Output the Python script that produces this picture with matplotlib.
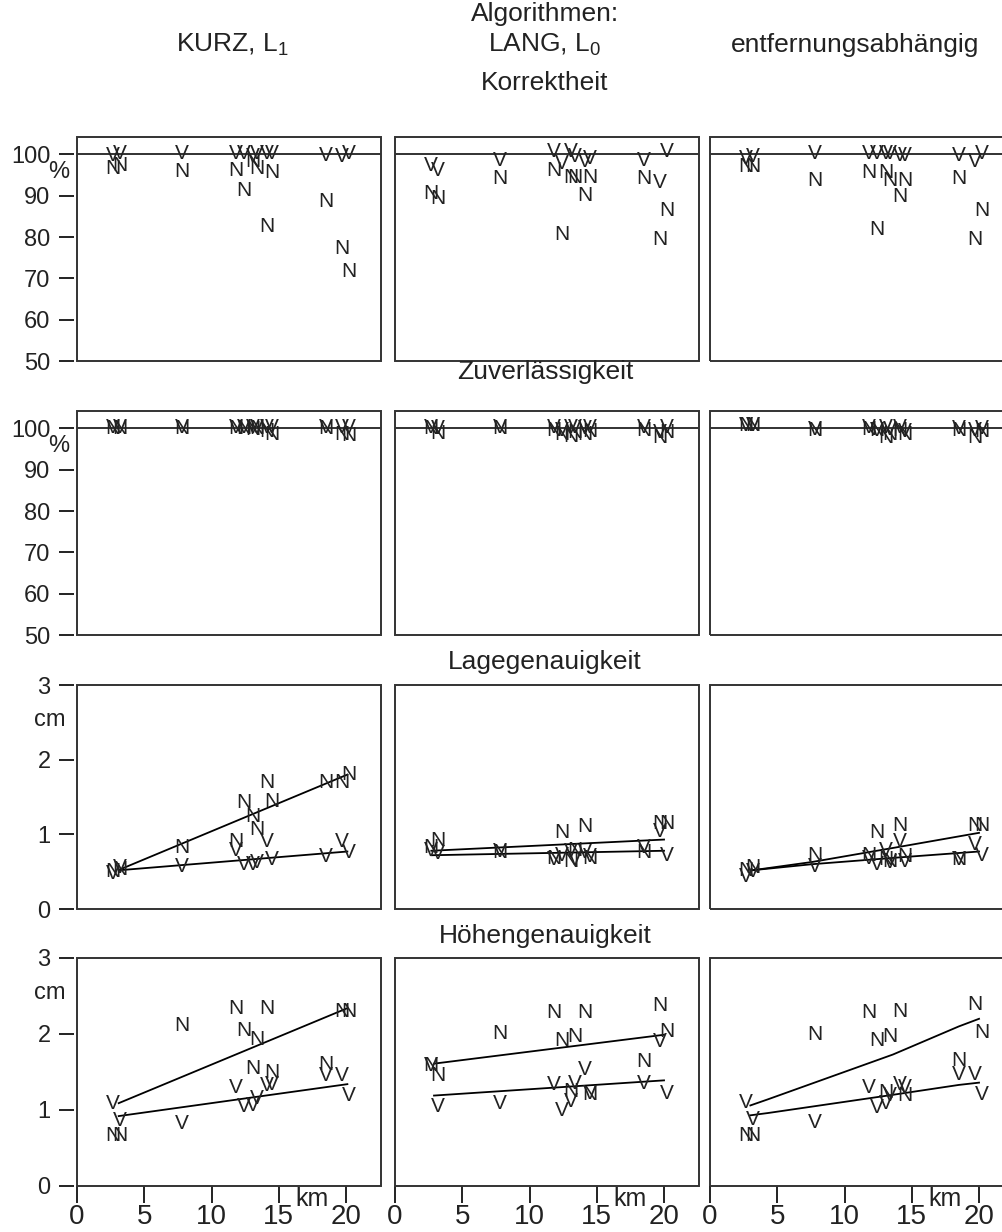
import numpy as np
import matplotlib.pyplot as plt
from matplotlib.patches import Rectangle
from matplotlib.transforms import blended_transform_factory

plt.rcParams['font.family'] = ['Liberation Sans Narrow', 'Liberation Sans', 'DejaVu Sans']
plt.rcParams['mathtext.default'] = 'regular'

# baselines (km), shared by every panel
dist = [2.7, 3.2, 7.8, 11.8, 12.4, 13.1, 13.4, 14.1, 14.5, 18.5, 19.7, 20.2]

algorithms = ['KURZ, L$_1$', 'LANG, L$_0$', 'entfernungsabhängig']
criteria = ['Korrektheit', 'Zuverlässigkeit', 'Lagegenauigkeit', 'Höhengenauigkeit']
units = ['%', '%', 'cm', 'cm']
pct_ticks = [50, 60, 70, 80, 90, 100]
cm_ticks = [0, 1, 2, 3]
km_ticks = [0, 5, 10, 15, 20]

# Korrektheit [%], one row per algorithm
korr_N = [[96.5, 97.3, 95.9, 96.1, 91.2, 98.2, 96.5, 82.5, 95.7, 88.5, 77.3, 71.6],
          [90.5, 89.3, 94.1, 96.1, 80.5, 94.5, 94.5, 90.1, 94.5, 94.1, 79.3, 86.5],
          [97.0, 97.0, 93.7, 95.7, 81.7, 95.7, 93.7, 89.7, 93.7, 94.1, 79.3, 86.5]]
korr_V = [[99.8, 100.2, 100.2, 100.2, 100.2, 99.4, 100.2, 100.2, 100.2, 99.8, 99.4, 100.2],
          [97.3, 96.1, 98.6, 100.6, 97.8, 100.6, 99.5, 98.2, 99.0, 98.6, 93.3, 100.6],
          [99.0, 99.5, 100.2, 100.2, 100.2, 100.2, 100.2, 99.8, 99.8, 99.8, 98.2, 100.2]]

# Zuverlaessigkeit [%]
zuv_N = [[100.0, 100.0, 100.0, 100.0, 100.0, 99.8, 100.0, 99.2, 98.6, 100.0, 98.6, 98.3],
         [100.0, 98.8, 100.0, 99.5, 98.6, 98.0, 99.0, 98.4, 99.2, 99.4, 97.8, 99.0],
         [100.6, 100.6, 99.6, 99.8, 99.4, 97.8, 98.6, 99.4, 98.6, 99.6, 97.8, 99.2]]
zuv_V = [[100.3, 100.2, 100.2, 100.3, 100.1, 100.3, 100.2, 100.3, 100.1, 100.3, 100.2, 100.3],
         [100.3, 100.0, 100.2, 100.3, 99.6, 100.3, 100.2, 100.0, 100.3, 100.3, 99.0, 100.2],
         [100.6, 100.6, 99.8, 100.2, 99.6, 100.2, 99.8, 100.2, 99.2, 100.0, 99.4, 100.0]]

# Lagegenauigkeit [cm]
lage_N = [[0.50, 0.53, 0.82, 0.90, 1.42, 1.24, 1.06, 1.69, 1.44, 1.69, 1.69, 1.80],
          [0.83, 0.92, 0.75, 0.68, 1.03, 0.63, 0.79, 1.11, 0.68, 0.75, 1.15, 1.15],
          [0.52, 0.55, 0.72, 0.72, 1.03, 0.66, 0.63, 1.12, 0.70, 0.66, 1.12, 1.12]]
lage_V = [[0.48, 0.55, 0.57, 0.79, 0.59, 0.59, 0.62, 0.90, 0.66, 0.70, 0.90, 0.75],
          [0.78, 0.74, 0.77, 0.66, 0.72, 0.77, 0.66, 0.75, 0.70, 0.82, 1.04, 0.71],
          [0.43, 0.50, 0.57, 0.68, 0.60, 0.79, 0.62, 0.90, 0.63, 0.66, 0.86, 0.72]]
lage_fit_x = [[3.2, 20.1], [2.7, 20.0], [3.2, 7.6, 14.0, 20.0]]
lage_fit_N = [[0.53, 1.80], [0.78, 0.93], [0.52, 0.63, 0.83, 1.02]]
lage_fit_V = [[0.52, 0.77], [0.72, 0.78], [0.52, 0.60, 0.69, 0.77]]

# Hoehengenauigkeit [cm]
hoehe_N = [[0.66, 0.66, 2.11, 2.33, 2.05, 1.55, 1.93, 2.33, 1.50, 1.60, 2.30, 2.30],
           [1.59, 1.46, 2.01, 2.28, 1.92, 1.24, 1.97, 2.28, 1.20, 1.64, 2.38, 2.03],
           [0.66, 0.66, 2.00, 2.28, 1.91, 1.23, 1.97, 2.29, 1.19, 1.65, 2.39, 2.02]]
hoehe_V = [[1.08, 0.86, 0.82, 1.30, 1.04, 1.06, 1.15, 1.32, 1.34, 1.45, 1.45, 1.19],
           [1.59, 1.05, 1.09, 1.33, 1.00, 1.11, 1.35, 1.53, 1.22, 1.35, 1.90, 1.22],
           [1.10, 0.88, 0.84, 1.30, 1.03, 1.08, 1.19, 1.34, 1.30, 1.47, 1.47, 1.21]]
hoehe_fit_x = [[3.1, 20.1], [2.9, 20.0], [3.0, 4.3, 13.6, 18.5, 20.0]]
hoehe_fit_N = [[1.09, 2.34], [1.61, 1.99], [1.06, 1.14, 1.73, 2.10, 2.20]]
hoehe_fit_V = [[0.92, 1.34], [1.19, 1.39], [0.93, 0.96, 1.20, 1.33, 1.36]]

W, H = 1003, 1232
fig = plt.figure(figsize=(W / 100, H / 100), dpi=100)

def px_box(left, top, w, h):
	return [left / W, 1 - (top + h) / H, w / W, h / H]

col_left = [77, 395, 710]
row_top = [137, 411, 685, 958]
row_h = [224, 224, 224, 228]
panel_w = 304

rows_N = [korr_N, zuv_N, lage_N, hoehe_N]
rows_V = [korr_V, zuv_V, lage_V, hoehe_V]
fits = [None, None, (lage_fit_x, lage_fit_N, lage_fit_V), (hoehe_fit_x, hoehe_fit_N, hoehe_fit_V)]

ink = '#222222'
for r in range(4):
	for c in range(3):
		ax = fig.add_axes(px_box(col_left[c], row_top[r], panel_w, row_h[r]))
		ax.set_xlim(0, 22.6)
		if r < 2:
			ax.set_ylim(50, 104.2)
			ax.axhline(100, color=ink, lw=1.3)
		else:
			ax.set_ylim(0, 3)
		for s in ax.spines.values():
			s.set_color('none')
		ax.add_patch(Rectangle((0, 0), 1, 1, transform=ax.transAxes, fill=False,
			ec='#333333', lw=1.4, clip_on=False, zorder=5))
		# letters as markers
		for d, n, v in zip(dist, rows_N[r][c], rows_V[r][c]):
			ax.text(d, v, 'V', ha='center', va='center', fontsize=15, color=ink)
			ax.text(d, n, 'N', ha='center', va='center', fontsize=15, color=ink)
		if fits[r] is not None:
			fx, fn, fv = fits[r]
			ax.plot(fx[c], fn[c], color='black', lw=1.3)
			ax.plot(fx[c], fv[c], color='black', lw=1.3)
		# y axis only on first column
		if c == 0:
			ax.spines['left'].set_position(('outward', 2))
			ax.set_yticks(pct_ticks if r < 2 else cm_ticks)
			ax.tick_params(axis='y', direction='out', length=11, width=1.4, pad=6,
				labelsize=17, colors=ink)
		else:
			ax.set_yticks([])
		# x axis only on last row
		if r == 3:
			ax.set_xticks(km_ticks)
			ax.tick_params(axis='x', direction='out', length=12, width=1.4, pad=1,
				labelsize=20, colors=ink)
			ax.text(17.5, -0.058, 'km', transform=blended_transform_factory(ax.transData, ax.transAxes),
				ha='center', va='center', fontsize=18, color=ink)
		else:
			ax.set_xticks([])
		if c == 0:
			ux = 59 if units[r] == '%' else 50
			fig.text(ux / W, 1 - (row_top[r] + 35) / H, units[r], ha='center', va='center',
				fontsize=17, color=ink)

# headings
fig.text(545 / W, 1 - 14 / H, 'Algorithmen:', ha='center', va='center', fontsize=19, color=ink)
for x, name in zip([232, 545, 855], algorithms):
	fig.text(x / W, 1 - 45 / H, name, ha='center', va='center', fontsize=19, color=ink)
for y, name in zip([83, 372, 662, 936], criteria):
	fig.text(545 / W, 1 - y / H, name, ha='center', va='center', fontsize=19, color=ink)

fig.savefig('out.png', dpi=100)
